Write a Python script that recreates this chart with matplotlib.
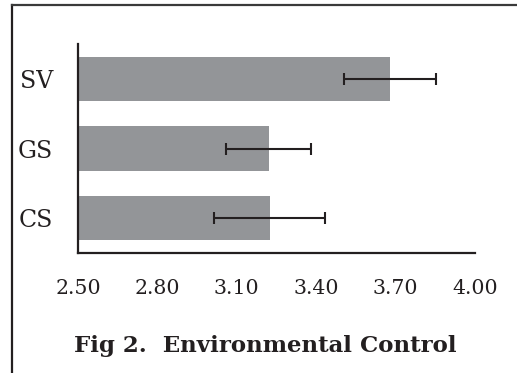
import numpy as np
import matplotlib.pyplot as plt
from matplotlib.lines import Line2D

# Data
groups = ["CS", "GS", "SV"]
means = [3.225, 3.22, 3.68]
errors = [0.21, 0.16, 0.174]
x_ticks = [2.50, 2.80, 3.10, 3.40, 3.70, 4.00]

W, H, DPI = 517, 373, 100
fig = plt.figure(figsize=(W / DPI, H / DPI), dpi=DPI)
plt.rcParams['font.family'] = ['DejaVu Serif']

# axes placement in pixels
x0, x1 = 78, 475
y_top, y_bot = 44, 253
ax = fig.add_axes([x0 / W, 1 - y_bot / H, (x1 - x0) / W, (y_bot - y_top) / H])

pos = np.arange(len(groups))
base = 2.5
ax.barh(pos, np.array(means) - base, left=base, height=0.64, color='#939598')
ax.errorbar(means, pos, xerr=errors, fmt='none', ecolor='#231f20',
            elinewidth=1.5, capsize=4.3, capthick=1.5)

ax.set_xlim(2.5, 4.0)
ax.set_ylim(-0.5, 2.5)
ax.set_xticks(x_ticks)
ax.set_xticklabels(["%.2f" % t for t in x_ticks], fontsize=14.8, color='#231f20')
ax.set_yticks(pos)
ax.set_yticklabels(groups, fontsize=17, color='#231f20')
ax.tick_params(axis='both', length=0)
ax.tick_params(axis='x', pad=19)
ax.tick_params(axis='y', pad=18)

for s in ['top', 'right']:
    ax.spines[s].set_visible(False)
for s in ['left', 'bottom']:
    ax.spines[s].set_linewidth(1.6)
    ax.spines[s].set_color('#231f20')

fig.text(265 / W, 1 - 346 / H, "Fig 2.  Environmental Control", ha='center', va='center',
         fontsize=16.5, fontweight='bold', color='#231f20')

# outer frame (left and top edges only)
fig.add_artist(Line2D([11.5 / W, 11.5 / W], [0, 1 - 4.5 / H], transform=fig.transFigure,
                      color='#231f20', lw=1.6))
fig.add_artist(Line2D([11.5 / W, 1], [1 - 4.5 / H, 1 - 4.5 / H], transform=fig.transFigure,
                      color='#3a3a3a', lw=1.6))

fig.savefig("out.png", dpi=DPI)
